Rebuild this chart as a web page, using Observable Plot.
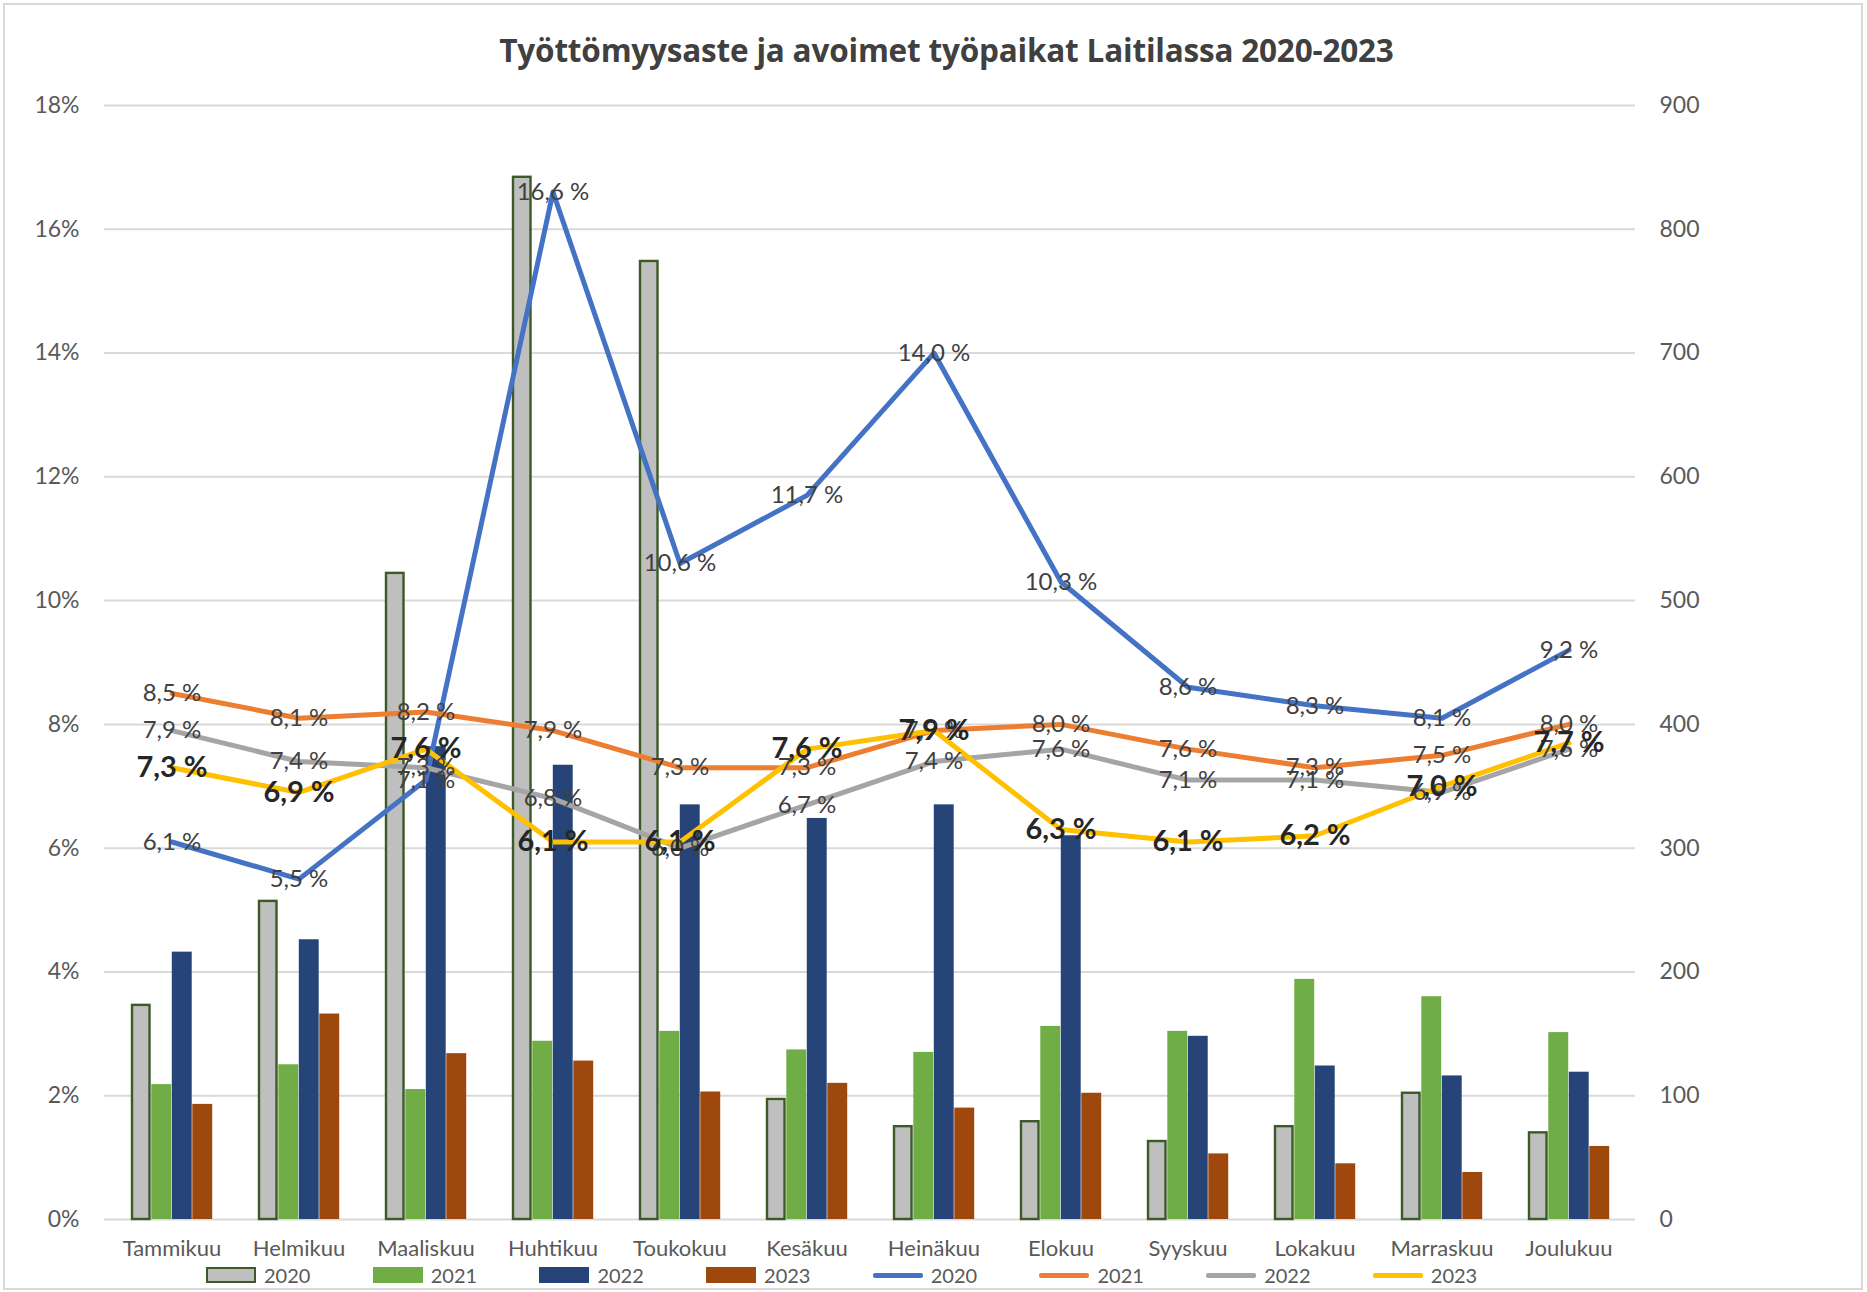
<!DOCTYPE html>
<html><head><meta charset="utf-8">
<script src="https://cdn.jsdelivr.net/npm/d3@7"></script>
<script src="https://cdn.jsdelivr.net/npm/@observablehq/plot@0.6"></script>
<style>
body{margin:0;background:#fff;font-family:Lato,"Open Sans",sans-serif;}
#chart{position:relative;width:1867px;height:1292px;overflow:hidden;background:#fff;}
#frame{position:absolute;left:3px;top:3px;width:1856px;height:1283px;border:2px solid #d9d9d9;}
#title{position:absolute;top:30px;left:0;width:1893px;text-align:center;font-family:"Open Sans",sans-serif;font-weight:700;font-size:31.5px;color:#404040;line-height:40px;letter-spacing:-0.2px;}
#plot{position:absolute;left:0;top:70px;}
#legend{position:absolute;top:1262px;left:206px;display:flex;height:26px;}
.item{display:flex;align-items:center;width:166.7px;font-size:20px;color:#595959;}
.sw{width:50px;height:16px;margin-right:8px;box-sizing:border-box;}
.ln{width:50px;height:5px;margin-right:8px;border-radius:2px;}
</style>
</head><body>
<div id="chart">
  <div id="frame"></div>
  <div id="title"></div>
  <div id="plot"></div>
  <div id="legend"></div>
</div>
<script>
const title = "Työttömyysaste ja avoimet työpaikat Laitilassa 2020-2023";
const months = ["Tammikuu","Helmikuu","Maaliskuu","Huhtikuu","Toukokuu","Kesäkuu","Heinäkuu","Elokuu","Syyskuu","Lokakuu","Marraskuu","Joulukuu"];
const years = ["2020","2021","2022","2023"];

// Avoimet työpaikat (right axis, bars)
const vacancies2020 = [173, 257, 522, 842, 774, 97, 75, 79, 63, 75, 102, 70];
const vacancies2021 = [109, 125, 105, 144, 152, 137, 135, 156, 152, 194, 180, 151];
const vacancies2022 = [216, 226, 382, 367, 335, 324, 335, 310, 148, 124, 116, 119];
const vacancies2023 = [93, 166, 134, 128, 103, 110, 90, 102, 53, 45, 38, 59];

// Työttömyysaste % (left axis, lines)
const rate2020 = [6.1, 5.5, 7.1, 16.6, 10.6, 11.7, 14.0, 10.3, 8.6, 8.3, 8.1, 9.2];
const rate2021 = [8.5, 8.1, 8.2, 7.9, 7.3, 7.3, 7.9, 8.0, 7.6, 7.3, 7.5, 8.0];
const rate2022 = [7.9, 7.4, 7.3, 6.8, 6.0, 6.7, 7.4, 7.6, 7.1, 7.1, 6.9, 7.6];
const rate2023 = [7.3, 6.9, 7.6, 6.1, 6.1, 7.6, 7.9, 6.3, 6.1, 6.2, 7.0, 7.7];

const leftTicks = [0, 2, 4, 6, 8, 10, 12, 14, 16, 18];
const rightTicks = [0, 100, 200, 300, 400, 500, 600, 700, 800, 900];

const barColors = ["#bfbfbf", "#70ad47", "#264478", "#9e480e"];
const lineColors = ["#4472c4", "#ed7d31", "#a5a5a5", "#ffc000"];

const vacancies = [vacancies2020, vacancies2021, vacancies2022, vacancies2023];
const rates = [rate2020, rate2021, rate2022, rate2023];
const ratio = leftTicks[leftTicks.length - 1] / rightTicks[rightTicks.length - 1];

document.getElementById("title").textContent = title;

const W = 1867, H = 1190;
const mL = 104, mR = 232, mT = 35, mB = 41;
const band = (W - mL - mR) / months.length;
const barW = 20.5;

const marks = [Plot.ruleY(leftTicks, {stroke: "#d9d9d9", strokeWidth: 2})];

vacancies.forEach((vals, i) => {
  const data = months.map((m, j) => ({month: m, v: vals[j] * ratio}));
  const off = (i - 1.5) * barW;
  const isFirst = i === 0;
  const inset = (band - barW) / 2 + (isFirst ? 1.2 : 0);
  marks.push(Plot.barY(data, {
    x: "month", y: "v", fill: barColors[i],
    stroke: isFirst ? "#3b5a26" : "none", strokeWidth: isFirst ? 2.4 : 0,
    insetLeft: inset, insetRight: inset, dx: off
  }));
});

rates.forEach((vals, i) => {
  const data = months.map((m, j) => ({month: m, v: vals[j]}));
  marks.push(Plot.line(data, {x: "month", y: "v", stroke: lineColors[i], strokeWidth: 5, strokeLinejoin: "round", strokeLinecap: "round"}));
});

rates.forEach((vals, i) => {
  const data = months.map((m, j) => ({month: m, v: vals[j]}));
  const bold = i === 3;
  marks.push(Plot.text(data, {
    x: "month", y: "v",
    text: d => d.v.toFixed(1).replace(".", ",") + " %",
    fill: bold ? "#262626" : "#404040",
    fontSize: bold ? 29 : 24,
    fontWeight: bold ? 700 : 400,
    lineAnchor: "middle", textAnchor: "middle"
  }));
});

marks.push(Plot.axisY({anchor: "left", ticks: leftTicks, tickFormat: d => d + "%", tickSize: 0, tickPadding: 25, fontSize: 23, label: null}));
marks.push(Plot.axisY({anchor: "right", ticks: leftTicks, tickFormat: (d, k) => String(rightTicks[k]), tickSize: 0, tickPadding: 24, fontSize: 23, label: null}));
marks.push(Plot.axisX({anchor: "bottom", tickSize: 0, tickPadding: 21, fontSize: 22, label: null}));

const chart = Plot.plot({
  width: W, height: H,
  marginLeft: mL, marginRight: mR, marginTop: mT, marginBottom: mB,
  x: {domain: months, padding: 0, axis: null},
  y: {domain: [0, 18], axis: null},
  style: {fontFamily: "Lato, 'Open Sans', sans-serif", color: "#595959", background: "transparent", overflow: "visible"},
  marks
});
document.getElementById("plot").appendChild(chart);

// Legend
const legend = document.getElementById("legend");
years.forEach((y, i) => {
  const it = document.createElement("div"); it.className = "item";
  const sw = document.createElement("div"); sw.className = "sw";
  sw.style.background = barColors[i];
  if (i === 0) sw.style.border = "2.5px solid #3b5a26";
  it.appendChild(sw);
  it.appendChild(document.createTextNode(y));
  legend.appendChild(it);
});
years.forEach((y, i) => {
  const it = document.createElement("div"); it.className = "item";
  const ln = document.createElement("div"); ln.className = "ln";
  ln.style.background = lineColors[i];
  it.appendChild(ln);
  it.appendChild(document.createTextNode(y));
  legend.appendChild(it);
});
</script>
</body></html>
